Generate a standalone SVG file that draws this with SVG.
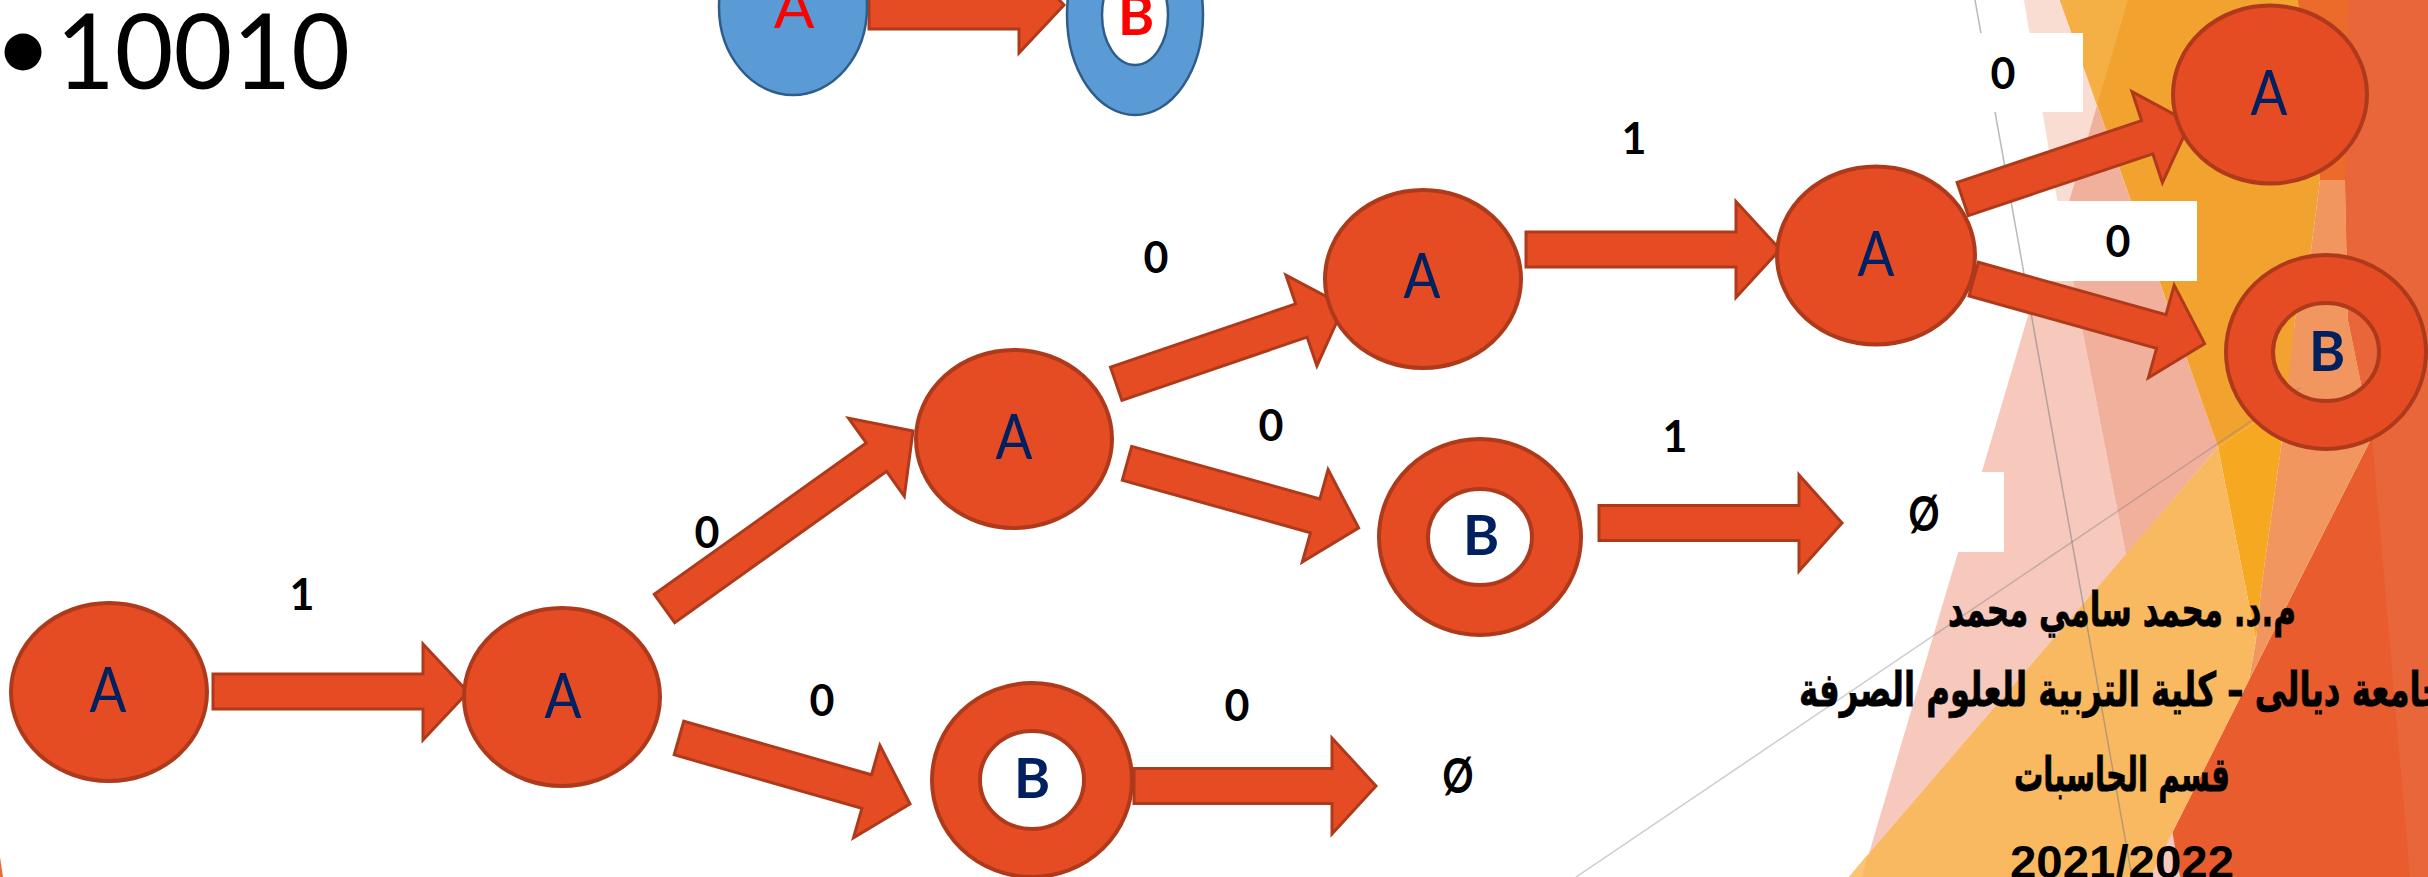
<svg xmlns="http://www.w3.org/2000/svg" width="2428" height="877" viewBox="0 0 2428 877">
<style>
.node{fill:#E64C23;stroke:#AE3A1B;stroke-width:4}
.ring{fill:#E64C23;fill-rule:evenodd;stroke:#AE3A1B;stroke-width:4}
.arrow{fill:#E64C23;stroke:#AE3A1B;stroke-width:3;stroke-linejoin:miter}
.blue{fill:#5B9BD5;stroke:#2E5D8C;stroke-width:2.5;fill-rule:evenodd}
.lblA{font-family:Lato,"Liberation Sans",sans-serif;font-size:62px;fill:#002060;text-anchor:middle}
.lblB{font-family:Lato,"Liberation Sans",sans-serif;font-weight:bold;font-size:55px;fill:#002060;text-anchor:middle}
.edge{font-family:Lato,"Liberation Sans",sans-serif;font-weight:bold;font-size:43px;fill:#000;text-anchor:middle}
.empty{font-family:Lato,"Liberation Sans",sans-serif;font-weight:bold;font-size:48px;fill:#000;text-anchor:middle}
.ar{font-family:"DejaVu Sans","Noto Sans",sans-serif;font-weight:bold;font-size:47px;fill:#000;stroke:#000;stroke-width:0.8;text-anchor:middle}
.box{fill:#FFFFFF}
.gl{fill:none;stroke:#7F7F7F;stroke-width:1.5}
</style>
<rect x="0" y="0" width="2428" height="877" fill="#FFFFFF"/>
<g id="background">
  <polygon points="2298,0 2428,0 2428,877 2150,877 2249,680 2372,437 2348,320 2345,180" fill="#E85C2E"/>
  <polygon points="2345,0 2428,0 2428,877 2410,877 2372,437 2348,320 2345,180" fill="#E9663B"/>
  <polygon points="2059,211 2068,205 2065,240 2081,323 2126,555 2180,877 1862,877" fill="#F6C9BC"/>
  <polygon points="2024,0 2060,0 2097,105 2068,205 2059,211" fill="#F9DCD2"/>
  <polygon points="2097,105 2218,447 2126,555 2081,323 2065,240 2068,205" fill="#F1B09B"/>
  <polygon points="2060,0 2300,0 2320,180 2311,250 2295,320 2290,380 2285,402 2218,447" fill="#F2A22F"/>
  <polygon points="2060,0 2128,0 2097,105" fill="#F4B044"/>
  <polygon points="2298,0 2348,0 2345,180 2320,180" fill="#EC6A2A"/>
  <polygon points="2320,180 2345,180 2348,320 2372,437 2249,680 2256,640 2261,590 2281,447 2295,320 2311,250" fill="#F0965E"/>
  <polygon points="2218,447 2285,402 2281,447 2261,590 2256,640" fill="#F5A820"/>
  <polygon points="2218,447 2256,640 2249,680 2150,877 1849,877" fill="#F9B961"/>
  <polygon points="1849,877 1862,877 1868,854" fill="#FCC56F"/>
  <polygon points="0,857 3,877 0,877" fill="#EC6A3A"/>
  <line class="gl" x1="1975" y1="0" x2="2132" y2="877" stroke-opacity="0.55"/>
  <line class="gl" x1="1576" y1="877" x2="2300" y2="388" stroke-opacity="0.4"/>
  <rect class="box" x="1955" y="33" width="128" height="79"/>
  <rect class="box" x="2038" y="201" width="159" height="80"/>
  <rect class="box" x="1875" y="472" width="129" height="80"/>
</g>
<g id="title">
  <circle cx="23" cy="52" r="18.5" fill="#000"/>
  <text x="56" y="89" font-family="Lato,'Liberation Sans',sans-serif" font-size="104" fill="#000" textLength="294" lengthAdjust="spacingAndGlyphs">10010</text>
</g>
<g id="legend">
  <polygon class="arrow" points="869,-19 1019,-19 1019,-43 1064,5 1019,53 1019,29 869,29"/>
  <g id="legendA">
    <ellipse class="blue" cx="793" cy="7" rx="74" ry="88"/>
    <text x="794" y="28" font-family="Lato,'Liberation Sans',sans-serif" font-size="60" fill="#FF0000" text-anchor="middle">A</text>
  </g>
  <g id="legendB">
    <path class="blue" d="M1067,15 a68,100 0 1,0 136,0 a68,100 0 1,0 -136,0 Z M1102,15 a33,50 0 1,0 66,0 a33,50 0 1,0 -66,0 Z"/>
    <text x="1136" y="35" font-family="Lato,'Liberation Sans',sans-serif" font-weight="bold" font-size="55" fill="#FF0000" text-anchor="middle">B</text>
  </g>
</g>
<g id="connectors">
  <polygon class="arrow" points="213,674 423,674 423,644 468,692 423,740 423,709 213,709"/>
  <polygon class="arrow" points="654.3,594.3 866.2,443 848.5,418.1 913,431 904.3,496.3 886.6,471.4 674.7,622.7"/>
  <polygon class="arrow" points="683.8,721.2 871.5,774.8 879.9,745.4 910,804 853.5,837.8 861.9,808.4 674.2,754.8"/>
  <polygon class="arrow" points="1110.5,367.2 1295.7,303.9 1285.9,275.1 1344,306 1316.9,365.9 1307.1,337.1 1121.9,400.4"/>
  <polygon class="arrow" points="1131.7,446.4 1319.9,498.9 1328.1,469.6 1358.6,527.9 1302.3,562 1310.5,532.7 1122.3,480.2"/>
  <polygon class="arrow" points="1526,232 1736,232 1736,201.5 1780,249.5 1736,297.5 1736,267 1526,267"/>
  <polygon class="arrow" points="1957.1,182.4 2141.6,120.6 2132,91.7 2189.9,122.9 2162.4,182.7 2152.8,153.8 1968.3,215.6"/>
  <polygon class="arrow" points="1978.4,262.2 2166,314.7 2174.2,285.3 2204.6,343.6 2148.4,377.7 2156.6,348.4 1969,295.9"/>
  <polygon class="arrow" points="1599,505.5 1799,505.5 1799,475 1842,523 1799,571 1799,540.5 1599,540.5"/>
  <polygon class="arrow" points="1134,768.5 1332,768.5 1332,738 1376,786 1332,834 1332,803.5 1134,803.5"/>
  <text class="edge" x="302" y="610">1</text>
  <text class="edge" x="707" y="548">0</text>
  <text class="edge" x="822" y="716">0</text>
  <text class="edge" x="1237" y="721">0</text>
  <text class="edge" x="1156" y="273">0</text>
  <text class="edge" x="1271" y="441">0</text>
  <text class="edge" x="1634" y="154">1</text>
  <text class="edge" x="1675" y="452">1</text>
  <text class="edge" x="2003" y="89">0</text>
  <text class="edge" x="2118" y="257">0</text>
</g>
<g id="empty1"><text class="empty" x="1924" y="531" textLength="31" lengthAdjust="spacingAndGlyphs">Ø</text></g>
<g id="empty2"><text class="empty" x="1458" y="793" textLength="31" lengthAdjust="spacingAndGlyphs">Ø</text></g>
<g id="nodeA1"><ellipse class="node" cx="109" cy="692" rx="98" ry="89"/><text class="lblA" x="108" y="712" textLength="37" lengthAdjust="spacingAndGlyphs">A</text></g>
<g id="nodeA2"><ellipse class="node" cx="562" cy="697" rx="98" ry="89"/><text class="lblA" x="563" y="718" textLength="37" lengthAdjust="spacingAndGlyphs">A</text></g>
<g id="nodeA3"><ellipse class="node" cx="1014" cy="439" rx="98" ry="89"/><text class="lblA" x="1014" y="459" textLength="37" lengthAdjust="spacingAndGlyphs">A</text></g>
<g id="nodeA4"><ellipse class="node" cx="1423" cy="279" rx="98" ry="89"/><text class="lblA" x="1422" y="298" textLength="37" lengthAdjust="spacingAndGlyphs">A</text></g>
<g id="nodeA5"><ellipse class="node" cx="1876" cy="255.5" rx="99" ry="89"/><text class="lblA" x="1876" y="276" textLength="37" lengthAdjust="spacingAndGlyphs">A</text></g>
<g id="nodeA6"><ellipse class="node" cx="2270" cy="94.5" rx="97" ry="89"/><text class="lblA" x="2269" y="115" textLength="37" lengthAdjust="spacingAndGlyphs">A</text></g>
<g id="nodeB1"><path class="ring" d="M932,780 a100,97 0 1,0 200,0 a100,97 0 1,0 -200,0 Z M980,780 a52,49 0 1,0 104,0 a52,49 0 1,0 -104,0 Z"/><text class="lblB" x="1032" y="798">B</text></g>
<g id="nodeB2"><path class="ring" d="M1379,537 a101,98 0 1,0 202,0 a101,98 0 1,0 -202,0 Z M1428,537 a52,48 0 1,0 104,0 a52,48 0 1,0 -104,0 Z"/><text class="lblB" x="1481" y="555">B</text></g>
<g id="nodeB3"><path class="ring" d="M2226,352 a100,97 0 1,0 200,0 a100,97 0 1,0 -200,0 Z M2273,352 a53,49 0 1,0 106,0 a53,49 0 1,0 -106,0 Z"/><text class="lblB" x="2327" y="371">B</text></g>
<g id="credits">
  <text class="ar" x="2122" y="626" direction="rtl" textLength="348" lengthAdjust="spacingAndGlyphs">م.د. محمد سامي محمد</text>
  <text class="ar" x="2122" y="706" direction="rtl" textLength="646" lengthAdjust="spacingAndGlyphs">جامعة ديالى – كلية التربية للعلوم الصرفة</text>
  <text class="ar" x="2122" y="791" direction="rtl" textLength="216" lengthAdjust="spacingAndGlyphs">قسم الحاسبات</text>
  <text x="2122" y="878" font-family="'Liberation Sans',Arial,sans-serif" font-weight="bold" font-size="47" fill="#000" text-anchor="middle" textLength="224" lengthAdjust="spacingAndGlyphs">2021/2022</text>
</g>
</svg>
